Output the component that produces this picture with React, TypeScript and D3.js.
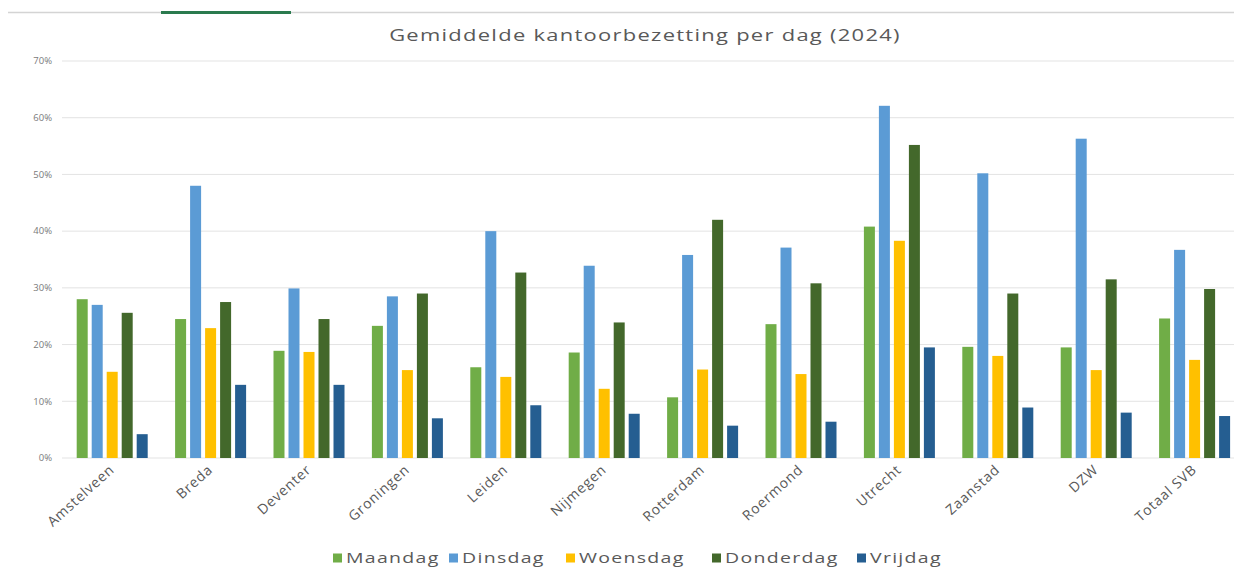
import { useMemo } from 'react'
import * as d3 from 'd3'

const categories = ['Amstelveen', 'Breda', 'Deventer', 'Groningen', 'Leiden', 'Nijmegen', 'Rotterdam', 'Roermond', 'Utrecht', 'Zaanstad', 'DZW', 'Totaal SVB']
const days = ['Maandag', 'Dinsdag', 'Woensdag', 'Donderdag', 'Vrijdag']

// percentages per location
const maandag = [28.0, 24.5, 18.9, 23.3, 16.0, 18.6, 10.7, 23.6, 40.8, 19.6, 19.5, 24.6]
const dinsdag = [27.0, 48.0, 29.9, 28.5, 40.0, 33.9, 35.8, 37.1, 62.1, 50.2, 56.3, 36.7]
const woensdag = [15.2, 22.9, 18.7, 15.5, 14.3, 12.2, 15.6, 14.8, 38.3, 18.0, 15.5, 17.3]
const donderdag = [25.6, 27.5, 24.5, 29.0, 32.7, 23.9, 42.0, 30.8, 55.2, 29.0, 31.5, 29.8]
const vrijdag = [4.2, 12.9, 12.9, 7.0, 9.3, 7.8, 5.7, 6.4, 19.5, 8.9, 8.0, 7.4]
const yTicks = [0, 10, 20, 30, 40, 50, 60, 70]

const series = [maandag, dinsdag, woensdag, donderdag, vrijdag]
const colors = ['#70AD47', '#5B9BD5', '#FFC000', '#43682B', '#255E91']

const W = 1234
const H = 570
const FONT = '"Open Sans", "DejaVu Sans", sans-serif'
const TEXT = '#595959'

// legend item start positions (layout)
const legendX = [333, 449, 566, 712, 857]

// the source screenshot is stretched sideways, so text gets a small x-scale
const stretch = (cx: number, s: number) => `translate(${cx},0) scale(${s},1) translate(${-cx},0)`

export default function App() {
  const x0 = useMemo(() => d3.scaleBand<string>().domain(categories).range([63, 63 + 12 * 98.4]), [])
  const x1 = useMemo(() => d3.scaleBand<string>().domain(days).range([0, 71]).paddingInner(4 / 15), [])
  const y = useMemo(() => d3.scaleLinear().domain([0, 70]).range([458, 61]), [])

  const groupOffset = (x0.bandwidth() - 71) / 2

  return (
    <div style={{ position: 'fixed', left: 0, top: 0, width: W, height: H, background: '#fff' }}>
      <svg width={W} height={H} style={{ display: 'block' }} fontFamily={FONT}>
        <rect width={W} height={H} fill="#fff" />
        {/* ribbon edge at top */}
        <line x1={8} x2={W} y1={12.5} y2={12.5} stroke="#d4d4d4" strokeWidth={1.5} />
        <line x1={161} x2={291} y1={12.5} y2={12.5} stroke="#2a7a4e" strokeWidth={3} />

        <text x={645} y={41} textAnchor="middle" fontSize={17} fill={TEXT} letterSpacing={1} transform={stretch(645, 1.29)}>
          Gemiddelde kantoorbezetting per dag (2024)
        </text>

        {/* gridlines + y labels */}
        {yTicks.map(t => (
          <g key={t}>
            <line x1={62} x2={W} y1={y(t)} y2={y(t)} stroke="#e3e3e3" strokeWidth={1} />
            <text x={52} y={y(t)} dy="0.35em" textAnchor="end" fontSize={9.5} fill="#7a7a7a">
              {t}%
            </text>
          </g>
        ))}

        {/* bars */}
        {categories.map((c, ci) => (
          <g key={c} transform={`translate(${(x0(c) ?? 0) + groupOffset},0)`}>
            {days.map((d, di) => {
              const v = series[di][ci]
              return (
                <rect
                  key={d}
                  x={x1(d)}
                  y={y(v)}
                  width={x1.bandwidth()}
                  height={y(0) - y(v)}
                  fill={colors[di]}
                />
              )
            })}
          </g>
        ))}

        {/* x labels */}
        {categories.map(c => {
          const cx = (x0(c) ?? 0) + x0.bandwidth() / 2 + 3
          return (
            <text
              key={c}
              x={cx}
              y={471}
              textAnchor="end"
              fontSize={14}
              letterSpacing={0.8}
              fill={TEXT}
              transform={`rotate(-42,${cx},471)`}
            >
              {c}
            </text>
          )
        })}

        {/* legend */}
        {days.map((d, i) => (
          <g key={d} transform={`translate(${legendX[i]},558)`}>
            <rect x={0} y={-4.5} width={9} height={9} fill={colors[i]} />
            <text x={13} y={0} dy="0.35em" fontSize={15} fill={TEXT} letterSpacing={1} transform={stretch(13, 1.3)}>
              {d}
            </text>
          </g>
        ))}
      </svg>
    </div>
  )
}
